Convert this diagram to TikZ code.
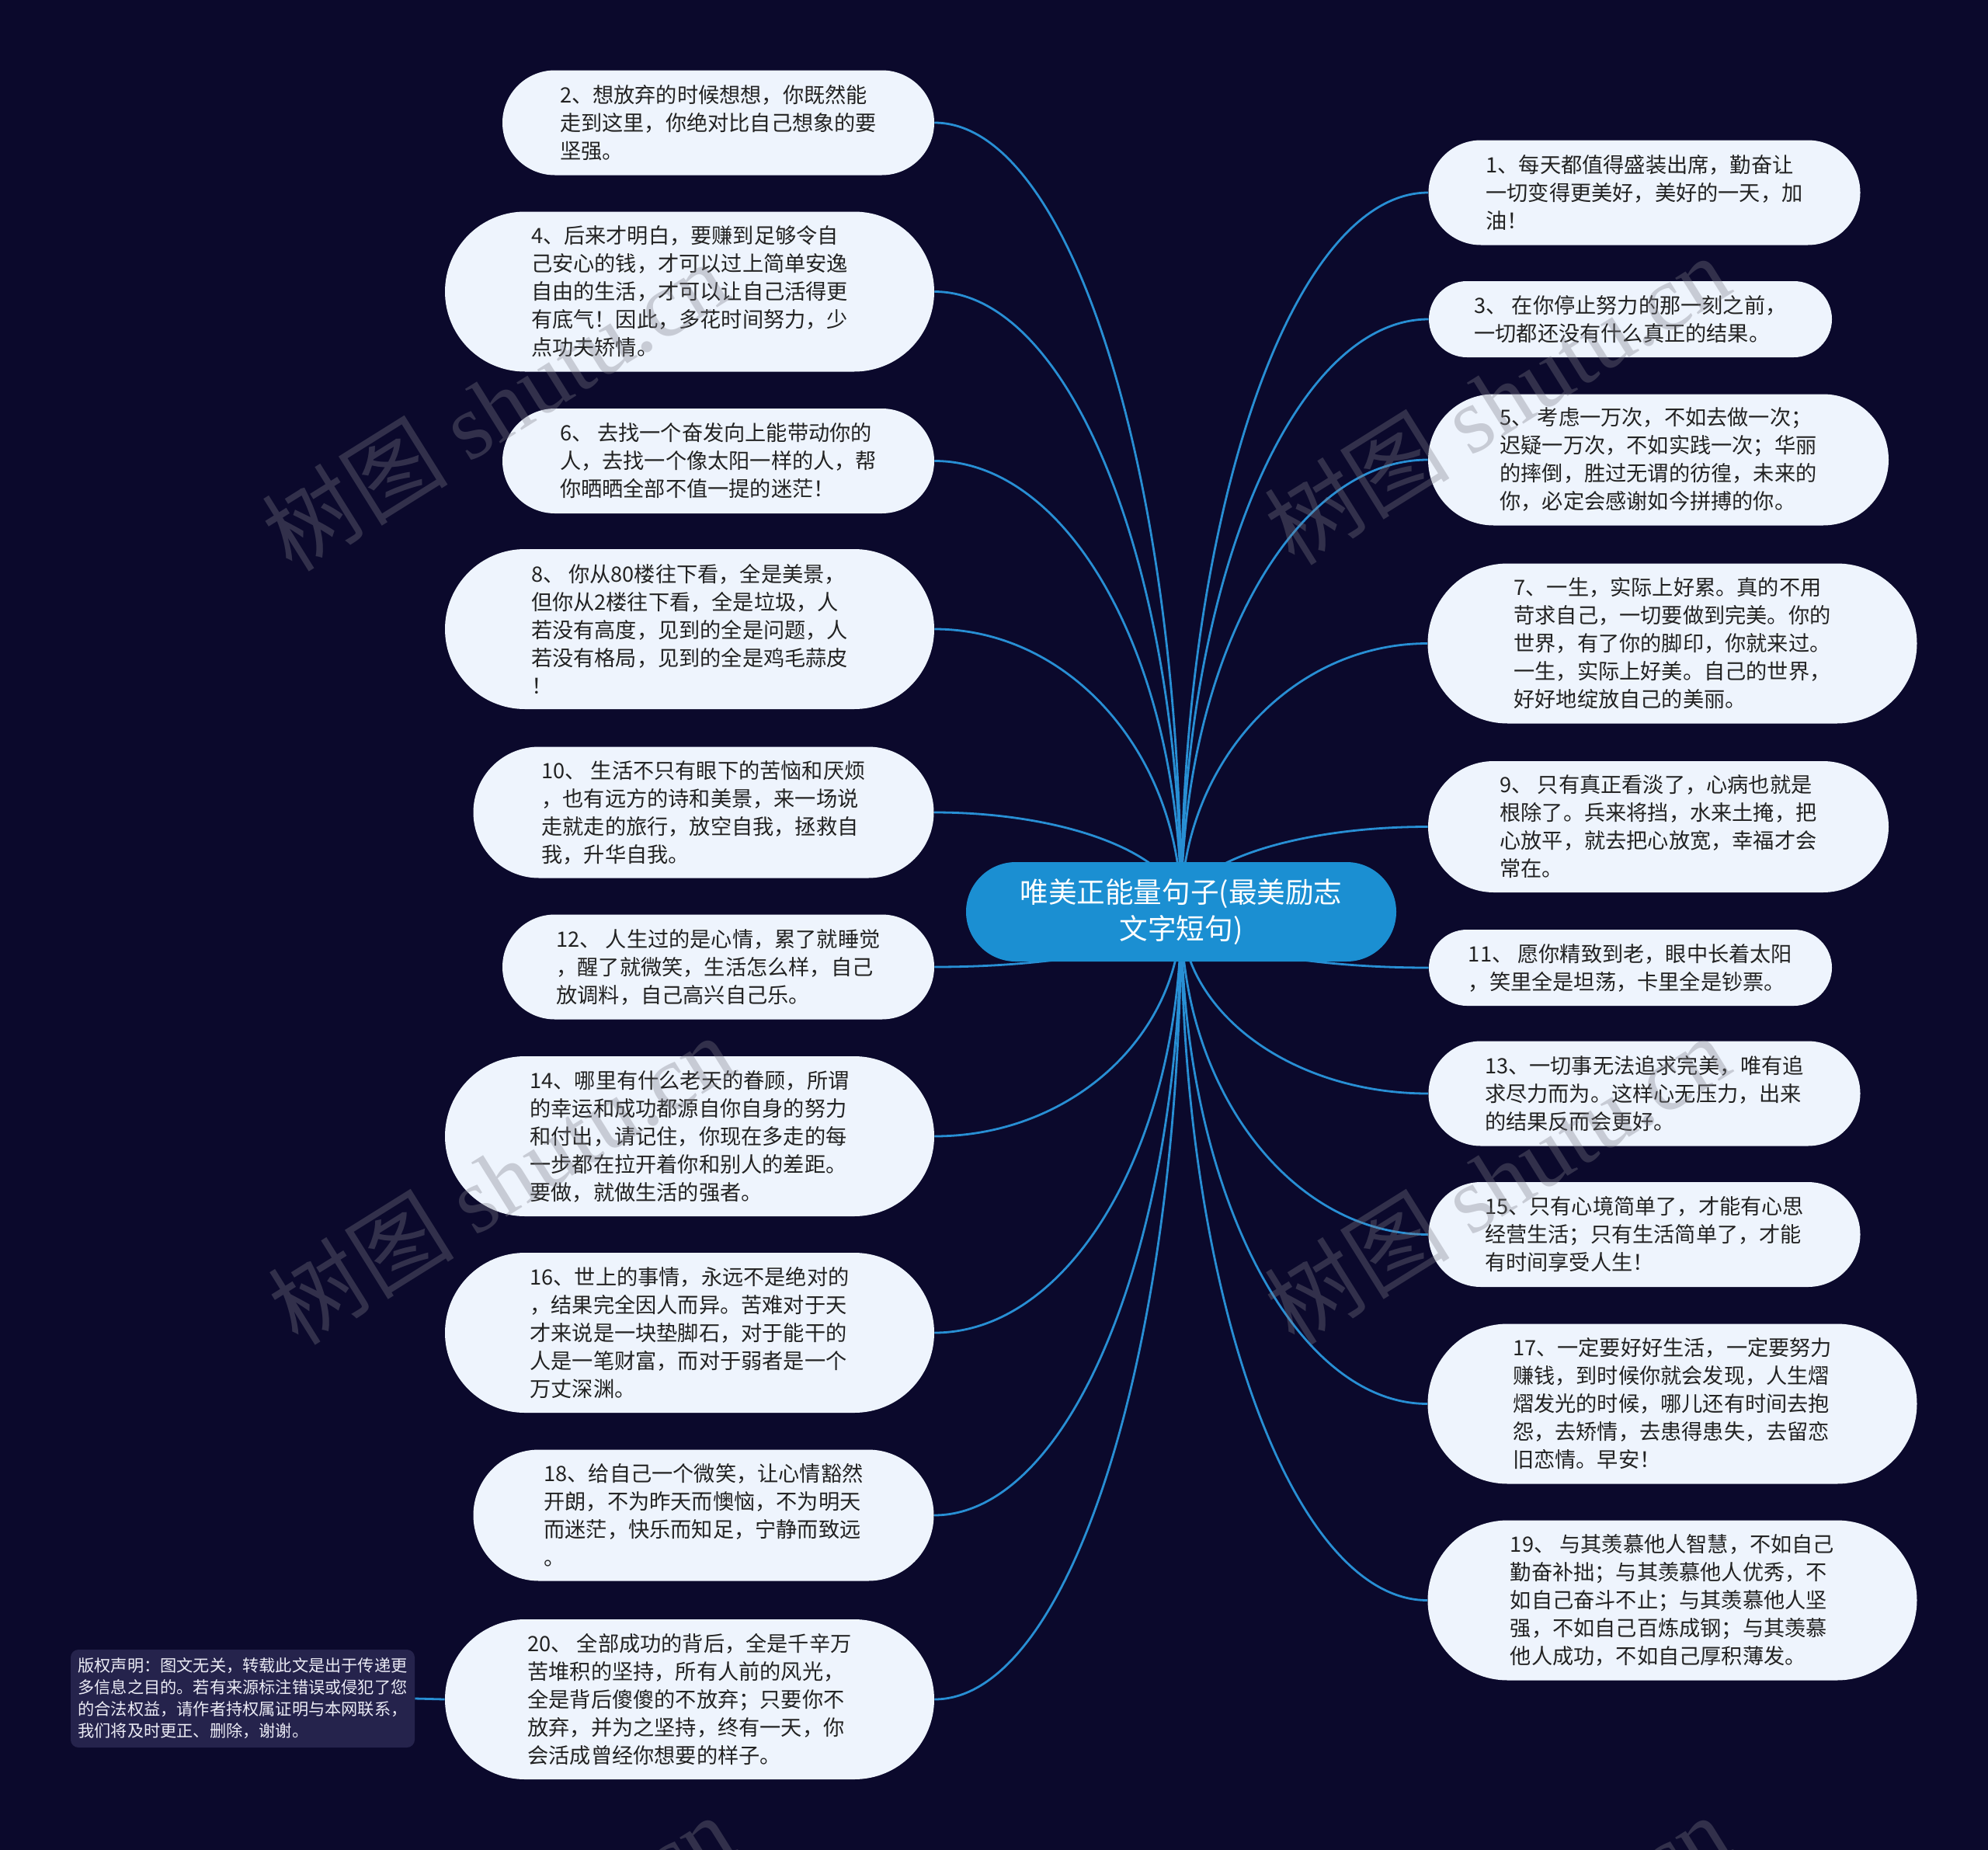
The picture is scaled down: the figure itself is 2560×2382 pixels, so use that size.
\documentclass[tikz,border=0pt]{standalone}
\usepackage{fontspec}
\setmainfont{Noto Sans CJK SC}
\newfontfamily\wmserif{Liberation Serif}
\usetikzlibrary{calc}
\definecolor{bgc}{RGB}{11,9,44}
\definecolor{leaffill}{RGB}{238,244,253}
\definecolor{leaftext}{RGB}{34,34,34}
\definecolor{rootfill}{RGB}{27,143,210}
\definecolor{linec}{RGB}{40,143,212}
\definecolor{cpfill}{RGB}{37,35,76}
\definecolor{cptext}{RGB}{235,235,245}
\definecolor{wmc}{RGB}{126,126,136}
\pgfdeclarelayer{back}
\pgfdeclarelayer{lines}
\pgfdeclarelayer{front}
\pgfsetlayers{back,lines,main,front}
\begin{document}
\begin{tikzpicture}[x=0.5pt,y=-0.5pt,
  leaf/.style={rectangle, fill=leaffill, text=leaftext, align=left, inner sep=0pt,
    font=\fontsize{13.6pt}{18pt}\selectfont},
  ltwo/.style={leaf, minimum width=259.5pt, minimum height=49pt, rounded corners=24.5pt},
  lthree/.style={leaf, minimum width=278pt, minimum height=67.5pt, rounded corners=33.75pt},
  lfour/.style={leaf, minimum width=296.5pt, minimum height=84.5pt, rounded corners=42.25pt},
  lfive/.style={leaf, minimum width=315pt, minimum height=103pt, rounded corners=51.5pt},
  root/.style={rectangle, fill=rootfill, text=white, align=center, inner sep=0pt,
    minimum width=277pt, minimum height=64pt, rounded corners=32pt,
    font=\fontsize{18.3pt}{23.5pt}\selectfont},
  cpbox/.style={rectangle, fill=cpfill, text=cptext, align=left, inner sep=0pt,
    minimum width=221.5pt, minimum height=63pt, rounded corners=5pt,
    font=\fontsize{10.6pt}{14pt}\selectfont},
  conn/.style={draw=linec, line width=1.4pt},
  wm/.style={rotate=32, text=wmc, text opacity=0.34, inner sep=0pt,
    font=\fontsize{60pt}{60pt}\selectfont}]
\useasboundingbox (0,0) rectangle (2560,2382);
\begin{pgfonlayer}{back}
  \fill[bgc] (0,0) rectangle (2560,2382);
\end{pgfonlayer}

\node[root] (C) at (1521,1174) {唯美正能量句子(最美励志\\文字短句)};

% left
\node[lthree] (L2) at (925,158) {2、想放弃的时候想想，你既然能\\走到这里，你绝对比自己想象的要\\坚强。};
\node[lfive] (L4) at (888,375.5) {4、后来才明白，要赚到足够令自\\己安心的钱，才可以过上简单安逸\\自由的生活，才可以让自己活得更\\有底气！因此，多花时间努力，少\\点功夫矫情。};
\node[lthree] (L6) at (925,593.5) {6、 去找一个奋发向上能带动你的\\人，去找一个像太阳一样的人，帮\\你晒晒全部不值一提的迷茫！};
\node[lfive] (L8) at (888,810) {8、 你从80楼往下看，全是美景，\\但你从2楼往下看，全是垃圾，人\\若没有高度，见到的全是问题，人\\若没有格局，见到的全是鸡毛蒜皮\\！};
\node[lfour] (L10) at (906,1046) {10、 生活不只有眼下的苦恼和厌烦\\，也有远方的诗和美景，来一场说\\走就走的旅行，放空自我，拯救自\\我，升华自我。};
\node[lthree] (L12) at (925,1245) {12、 人生过的是心情，累了就睡觉\\，醒了就微笑，生活怎么样，自己\\放调料，自己高兴自己乐。};
\node[lfive] (L14) at (888,1463) {14、哪里有什么老天的眷顾，所谓\\的幸运和成功都源自你自身的努力\\和付出，请记住，你现在多走的每\\一步都在拉开着你和别人的差距。\\要做，就做生活的强者。};
\node[lfive] (L16) at (888,1716) {16、世上的事情，永远不是绝对的\\，结果完全因人而异。苦难对于天\\才来说是一块垫脚石，对于能干的\\人是一笔财富，而对于弱者是一个\\万丈深渊。};
\node[lfour] (L18) at (906,1951) {18、给自己一个微笑，让心情豁然\\开朗，不为昨天而懊恼，不为明天\\而迷茫，快乐而知足，宁静而致远\\。};
\node[lfive] (L20) at (888,2188) {20、 全部成功的背后，全是千辛万\\苦堆积的坚持，所有人前的风光，\\全是背后傻傻的不放弃；只要你不\\放弃，并为之坚持，终有一天，你\\会活成曾经你想要的样子。};

% right
\node[lthree] (R1) at (2117.5,248) {1、每天都值得盛装出席，勤奋让\\一切变得更美好，美好的一天，加\\油！};
\node[ltwo] (R3) at (2099.5,411) {3、 在你停止努力的那一刻之前，\\一切都还没有什么真正的结果。};
\node[lfour] (R5) at (2135.5,592) {5、 考虑一万次，不如去做一次；\\迟疑一万次，不如实践一次；华丽\\的摔倒，胜过无谓的彷徨，未来的\\你，必定会感谢如今拼搏的你。};
\node[lfive] (R7) at (2153.5,828.5) {7、一生，实际上好累。真的不用\\苛求自己，一切要做到完美。你的\\世界，有了你的脚印，你就来过。\\一生，实际上好美。自己的世界，\\好好地绽放自己的美丽。};
\node[lfour] (R9) at (2135.5,1064.5) {9、 只有真正看淡了，心病也就是\\根除了。兵来将挡，水来土掩，把\\心放平，就去把心放宽，幸福才会\\常在。};
\node[ltwo] (R11) at (2099.5,1246) {11、 愿你精致到老，眼中长着太阳\\，笑里全是坦荡，卡里全是钞票。};
\node[lthree] (R13) at (2117.5,1408) {13、一切事无法追求完美，唯有追\\求尽力而为。这样心无压力，出来\\的结果反而会更好。};
\node[lthree] (R15) at (2117.5,1589.5) {15、只有心境简单了，才能有心思\\经营生活；只有生活简单了，才能\\有时间享受人生！};
\node[lfive] (R17) at (2153.5,1807.5) {17、一定要好好生活，一定要努力\\赚钱，到时候你就会发现，人生熠\\熠发光的时候，哪儿还有时间去抱\\怨，去矫情，去患得患失，去留恋\\旧恋情。早安！};
\node[lfive] (R19) at (2153.5,2060.5) {19、 与其羡慕他人智慧，不如自己\\勤奋补拙；与其羡慕他人优秀，不\\如自己奋斗不止；与其羡慕他人坚\\强，不如自己百炼成钢；与其羡慕\\他人成功，不如自己厚积薄发。};

\node[cpbox] (CP) at (312.5,2187) {版权声明：图文无关，转载此文是出于传递更\\多信息之目的。若有来源标注错误或侵犯了您\\的合法权益，请作者持权属证明与本网联系，\\我们将及时更正、删除，谢谢。};

\begin{pgfonlayer}{lines}
  \foreach \n in {L2,L4,L6,L8,L10,L12,L14,L16,L18,L20} {
    \coordinate (k\n) at (C.center |- \n.east);
    \draw[conn] (C.center) .. controls ($(C.center)!0.552!(k\n)$) and ($(\n.east)!0.552!(k\n)$) .. (\n.east);
  }
  \foreach \n in {R1,R3,R5,R7,R9,R11,R13,R15,R17,R19} {
    \coordinate (k\n) at (C.center |- \n.west);
    \draw[conn] (C.center) .. controls ($(C.center)!0.552!(k\n)$) and ($(\n.west)!0.552!(k\n)$) .. (\n.west);
  }
  \draw[conn] (CP.east) -- (L20.west);
\end{pgfonlayer}

\begin{pgfonlayer}{front}
  \node[wm] (wm1) at (637,522) {树图 {\wmserif shutu.cn}};
  \node[wm] (wm2) at (1927,514) {树图 {\wmserif shutu.cn}};
  \node[wm] (wm3) at (645,1518) {树图 {\wmserif shutu.cn}};
  \node[wm] (wm4) at (1927,1518) {树图 {\wmserif shutu.cn}};
  \node[wm] (wm5) at (645,2522) {树图 {\wmserif shutu.cn}};
  \node[wm] (wm6) at (1927,2522) {树图 {\wmserif shutu.cn}};
\end{pgfonlayer}
\end{tikzpicture}
\end{document}
